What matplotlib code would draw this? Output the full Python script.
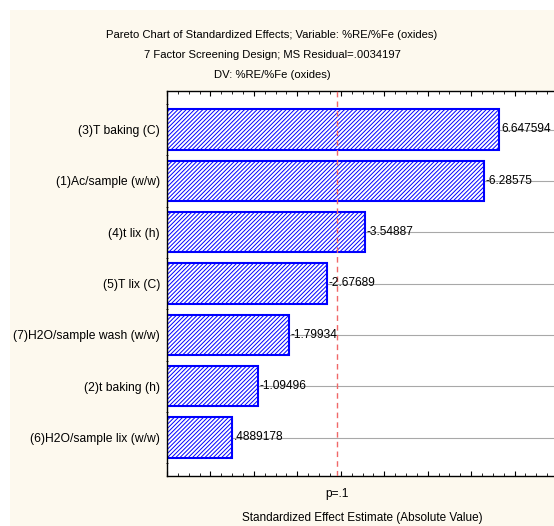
import matplotlib
matplotlib.use("Agg")
import matplotlib.pyplot as plt
from matplotlib.patches import Rectangle
import numpy as np

factors = ["(3)T baking (C)", "(1)Ac/sample (w/w)", "(4)t lix (h)", "(5)T lix (C)",
           "(7)H2O/sample wash (w/w)", "(2)t baking (h)", "(6)H2O/sample lix (w/w)"]
effects = [6.647594, -6.28575, -3.54887, -2.67689, -1.79934, -1.09496, 0.4889178]
effect_labels = ["6.647594", "-6.28575", "-3.54887", "-2.67689", "-1.79934", "-1.09496", ".4889178"]
p_crit = 2.919986
p_label = "p=.1"
titles = ["Pareto Chart of Standardized Effects; Variable: %RE/%Fe (oxides)",
          "7 Factor Screening Design; MS Residual=.0034197",
          "DV: %RE/%Fe (oxides)"]
xlabel = "Standardized Effect Estimate (Absolute Value)"

FONT = ["Liberation Sans", "DejaVu Sans"]
plt.rcParams["font.family"] = FONT
plt.rcParams["hatch.linewidth"] = 0.7
plt.rcParams["hatch.color"] = "#0000FF"

W, H = 554, 526
fig = plt.figure(figsize=(W / 100, H / 100), dpi=100, facecolor="white")
cream = Rectangle((10 / W, 0), 1, 1 - 10 / H, transform=fig.transFigure,
                  facecolor="#FDF9EE", edgecolor="none", zorder=-10)
fig.patches.append(cream)

xmin, xmax = -1.0, 8.0
ax = fig.add_axes([167 / W, 1 - 476 / H, (558 - 167) / W, (476 - 91) / H])
ax.set_facecolor("white")

vals = np.abs(np.array(effects))
ypos = np.arange(len(factors))
for y in ypos:
    ax.axhline(y, color="#A8A8A8", lw=0.8, zorder=1)
ax.barh(ypos, vals - xmin, left=xmin, height=0.79, facecolor="white",
        edgecolor="#0000FF", hatch="////////", linewidth=1.5, zorder=2)
ax.axvline(p_crit, color="#F06868", lw=1.0, ls=(0, (4, 3)), zorder=3)

for y, v, lab in zip(ypos, vals, effect_labels):
    ax.text(v + 0.04, y, lab, va="center", ha="left", fontsize=8.6, zorder=4)

ax.set_xlim(xmin, xmax)
ax.set_ylim(len(factors) - 0.25, -0.75)
ax.set_yticks(ypos)
ax.set_yticklabels(factors, fontsize=8.7)
ax.tick_params(axis="y", length=0, pad=5)
ax.set_yticks(np.arange(len(factors) + 1) - 0.5, minor=True)
ax.tick_params(axis="y", which="minor", length=2, direction="inout", width=0.6)

ax.set_xticks(np.arange(-1, 9))
ax.set_xticks(np.arange(-1, 8.01, 0.25), minor=True)
ax.set_xticklabels([])
ax.tick_params(axis="x", which="major", direction="in", length=3.5, width=0.8,
               top=True, bottom=True)
ax.tick_params(axis="x", which="minor", direction="in", length=2, width=0.6,
               top=True, bottom=True)
for s in ["left", "bottom", "top", "right"]:
    ax.spines[s].set_color("black")
    ax.spines[s].set_linewidth(1.0)

fig.text(337 / W, 1 - 494 / H, p_label, ha="center", va="center", fontsize=8.6)
fig.text(362.5 / W, 1 - 518 / H, xlabel, ha="center", va="center", fontsize=8.5)
for ty, t in zip([35, 55.5, 75], titles):
    fig.text(272 / W, 1 - ty / H, t, ha="center", va="center", fontsize=8.1)

fig.savefig("out.png", dpi=100, facecolor=fig.get_facecolor())
